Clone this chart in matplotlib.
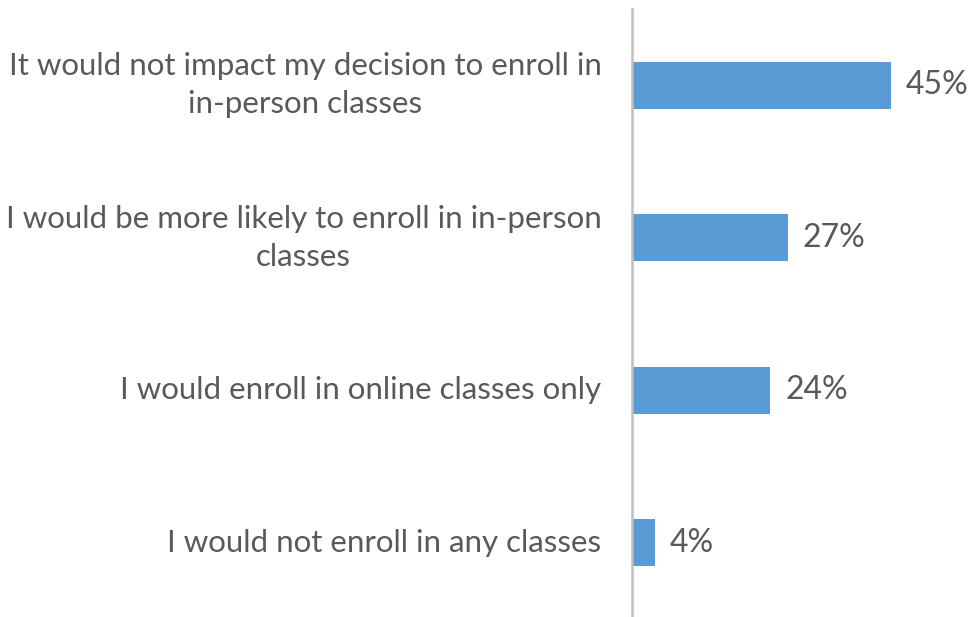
import matplotlib.pyplot as plt

plt.rcParams["font.family"] = ["Lato", "DejaVu Sans"]

# ---- data ----
categories = [
    "It would not impact my decision to enroll in\nin-person classes",
    "I would be more likely to enroll in in-person\nclasses",
    "I would enroll in online classes only",
    "I would not enroll in any classes",
]
values = [45, 27, 24, 4]
value_labels = ["45%", "27%", "24%", "4%"]

BAR_COLOR = "#5B9BD5"
TEXT_COLOR = "#595959"
AXIS_COLOR = "#BFBFBF"

W, H = 973, 617
fig = plt.figure(figsize=(W / 100, H / 100), dpi=100, facecolor="white")
ax = fig.add_axes([632 / W, -2 / H, 288 / W, 610 / H])

ypos = list(range(len(categories)))
ax.barh(ypos, values, height=0.31, color=BAR_COLOR, edgecolor="none")
ax.set_xlim(0, 50)
ax.set_ylim(len(categories) - 0.5, -0.5)

for y, v, lab in zip(ypos, values, value_labels):
    ax.text(v + 2.6, y, lab, ha="left", va="center", fontsize=23, color=TEXT_COLOR)

for y, cat in zip(ypos, categories):
    ax.text(-5.3, y, cat, ha="right", va="center", multialignment="center",
            fontsize=22.5, color=TEXT_COLOR, linespacing=1.42)

for s in ["top", "right", "bottom"]:
    ax.spines[s].set_visible(False)
ax.spines["left"].set_color(AXIS_COLOR)
ax.spines["left"].set_linewidth(1.8)
ax.set_xticks([])
ax.set_yticks([])

fig.savefig("out.png", dpi=100, facecolor="white")
